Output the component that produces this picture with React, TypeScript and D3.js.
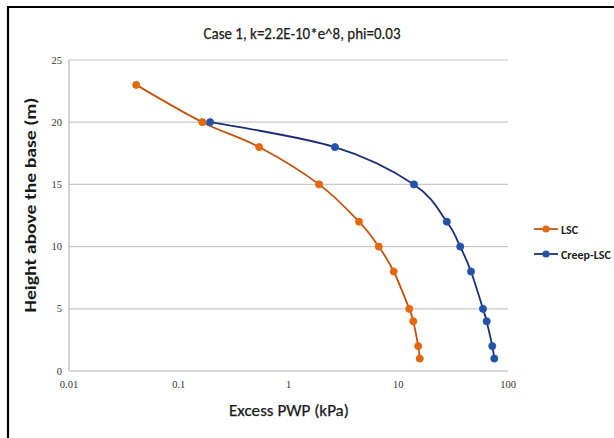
import React from "react";
import * as d3 from "d3";

const heightsLSC = [23, 20, 18, 15, 12, 10, 8, 5, 4, 2, 1];
const pwpLSC = [0.041, 0.164, 0.54, 1.9, 4.39, 6.64, 9.09, 12.6, 13.7, 15.2, 15.7];
const heightsCreep = [20, 18, 15, 12, 10, 8, 5, 4, 2, 1];
const pwpCreep = [0.193, 2.65, 13.9, 27.7, 36.7, 46.0, 59.2, 63.9, 71.9, 75.0];
const xTicks = [0.01, 0.1, 1, 10, 100];
const xTickLabels = ["0.01", "0.1", "1", "10", "100"];
const yTicks = [0, 5, 10, 15, 20, 25];
const seriesNames = ["LSC", "Creep-LSC"];

const W = 614;
const H = 438;
const left = 69;
const right = 508;
const top = 60;
const bottom = 371;

export default function App() {
  const x = d3.scaleLog().domain([0.01, 100]).range([left, right]);
  const y = d3.scaleLinear().domain([0, 25]).range([bottom, top]);
  const line = d3
    .line<[number, number]>()
    .x((d) => x(d[0]))
    .y((d) => y(d[1]))
    .curve(d3.curveCatmullRom.alpha(0));

  const series = [
    { name: seriesNames[0], xs: pwpLSC, ys: heightsLSC, stroke: "#C0540F", fill: "#E2690E" },
    { name: seriesNames[1], xs: pwpCreep, ys: heightsCreep, stroke: "#1B2F78", fill: "#2352A8" },
  ];

  const font = "Carlito, Calibri, 'Open Sans', 'Noto Sans', sans-serif";
  const tickFont = "'Liberation Serif', 'DejaVu Serif', serif";

  return (
    <svg
      width={W}
      height={H}
      style={{ position: "absolute", left: 0, top: 0, display: "block" }}
    >
      <rect x={0} y={0} width={W} height={H} fill="#fff" />
      <path d={`M8,${H + 5} L8,7 L${W + 5},7`} fill="none" stroke="#000" strokeWidth={2.2} />
      <text
        x={302}
        y={39}
        textAnchor="middle"
        fontFamily={font}
        fontSize={17}
        fill="#1a1a1a"
        stroke="#1a1a1a"
        strokeWidth={0.25}
        textLength={197}
        lengthAdjust="spacingAndGlyphs"
      >
        Case 1, k=2.2E-10*e^8, phi=0.03
      </text>
      {yTicks.filter((t) => t > 0).map((t) => (
        <line key={"g" + t} x1={left} x2={right} y1={y(t)} y2={y(t)} stroke="#c8c8c8" strokeWidth={1.2} />
      ))}
      <line x1={left} x2={left} y1={top} y2={bottom} stroke="#b4b4b4" strokeWidth={1.2} />
      <line x1={left} x2={right} y1={bottom} y2={bottom} stroke="#b4b4b4" strokeWidth={1.2} />
      {yTicks.map((t) => (
        <text
          key={"yl" + t}
          x={left - 7}
          y={y(t) + 3.5}
          textAnchor="end"
          fontFamily={tickFont}
          fontSize={10.5}
          fill="#333"
        >
          {t}
        </text>
      ))}
      {xTicks.map((t, i) => (
        <text
          key={"xl" + t}
          x={x(t)}
          y={388}
          textAnchor="middle"
          fontFamily={tickFont}
          fontSize={10.5}
          fill="#333"
        >
          {xTickLabels[i]}
        </text>
      ))}
      <text
        x={289}
        y={416}
        textAnchor="middle"
        fontFamily={font}
        fontSize={17}
        fill="#1a1a1a"
        stroke="#1a1a1a"
        strokeWidth={0.25}
        textLength={120}
        lengthAdjust="spacingAndGlyphs"
      >
        Excess PWP (kPa)
      </text>
      <text
        transform={`translate(36,205) rotate(-90)`}
        textAnchor="middle"
        fontFamily={font}
        fontSize={16}
        fontWeight="bold"
        fill="#1a1a1a"
        textLength={215}
        lengthAdjust="spacingAndGlyphs"
      >
        Height above the base (m)
      </text>
      {series.map((s) => {
        const pts: [number, number][] = s.xs.map((v, i) => [v, s.ys[i]]);
        return (
          <g key={s.name}>
            <path d={line(pts) || ""} fill="none" stroke={s.stroke} strokeWidth={1.8} />
            {pts.map((p, i) => (
              <circle key={i} cx={x(p[0])} cy={y(p[1])} r={3.6} fill={s.fill} stroke={s.fill} strokeWidth={0.8} />
            ))}
          </g>
        );
      })}
      {series.map((s, i) => {
        const ly = 229 + i * 25;
        return (
          <g key={"lg" + s.name}>
            <line x1={534} x2={558} y1={ly} y2={ly} stroke={s.stroke} strokeWidth={1.8} />
            <circle cx={546} cy={ly} r={3.6} fill={s.fill} />
            <text
              x={561}
              y={ly + 4.5}
              fontFamily={font}
              fontSize={12}
              fontWeight="bold"
              fill="#222"
            >
              {s.name}
            </text>
          </g>
        );
      })}
    </svg>
  );
}
